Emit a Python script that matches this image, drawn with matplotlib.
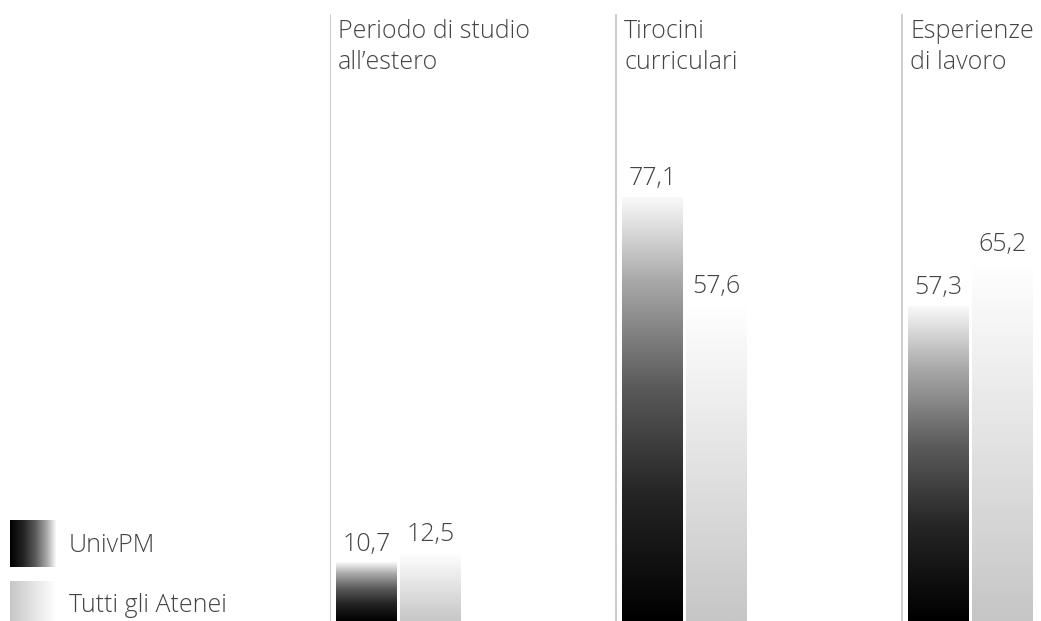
import numpy as np
import matplotlib
matplotlib.use("Agg")
import matplotlib.pyplot as plt
from matplotlib.colors import LinearSegmentedColormap

# data
categories = ["Periodo di studio\nall\u2019estero", "Tirocini\ncurriculari", "Esperienze\ndi lavoro"]
series = ["UnivPM", "Tutti gli Atenei"]
univpm = [10.7, 77.1, 57.3]
tutti = [12.5, 57.6, 65.2]

plt.rcParams['font.family'] = ['Open Sans', 'DejaVu Sans']
fw = "light"
fs = 18
text_col = "#444444"
line_col = "#c4c4c4"

# gradients (bottom -> top)
cm_univ = LinearSegmentedColormap.from_list(
    "univ", [(0, "#000000"), (0.3, "#252525"), (0.55, "#5a5a5a"), (0.8, "#a8a8a8"), (1, "#fafafa")])
cm_tutti = LinearSegmentedColormap.from_list("tutti", [(0, "#c6c6c6"), (1, "#ffffff")])

W, H = 1041, 621
fig = plt.figure(figsize=(W / 100, H / 100), dpi=100)
left = 330 / W
ax = fig.add_axes([left, 0, 1 - left, 1])
ax.set_xlim(0, (W - 330) / 286)
ax.set_ylim(0, H / 5.5)
ax.axis("off")

pad = 6 / 286
bw = 61 / 286
gap = 3 / 286
grad = np.linspace(0, 1, 256).reshape(-1, 1)

for i, cat in enumerate(categories):
    ax.axvline(i, ymin=0, ymax=1 - 15 / H, color=line_col, lw=1.2)
    ax.text(i + 8 / 286, H / 5.5 - 19 / 5.5, cat, ha="left", va="top",
            fontsize=fs, color=text_col, linespacing=1.3, fontweight=fw)
    for j, (vals, cm) in enumerate([(univpm, cm_univ), (tutti, cm_tutti)]):
        x0 = i + pad + j * (bw + gap)
        v = vals[i]
        b = ax.bar(x0, v, width=bw, align="edge", facecolor="none", edgecolor="none")[0]
        im = ax.imshow(grad, cmap=cm, origin="lower", aspect="auto",
                       extent=[x0, x0 + bw, 0, v], interpolation="bilinear")
        im.set_clip_path(b)
        ax.text(x0 + bw / 2, v + 1.0, f"{v:.1f}".replace(".", ","), ha="center", va="bottom",
                fontsize=fs, color=text_col, fontweight=fw)

# legend
hgrad = np.linspace(0, 1, 256).reshape(1, -1)
for k, (name, cm) in enumerate(zip(series, [cm_univ, cm_tutti])):
    y_top = 520 + k * 61
    lax = fig.add_axes([10 / W, 1 - (y_top + 47) / H, 45 / W, 47 / H])
    lax.imshow(hgrad, cmap=cm, aspect="auto", interpolation="bilinear")
    lax.axis("off")
    fig.text(69 / W, 1 - (y_top + 25) / H, name, ha="left", va="center",
             fontsize=fs, color=text_col, fontweight=fw)

fig.savefig("out.png", dpi=100)
